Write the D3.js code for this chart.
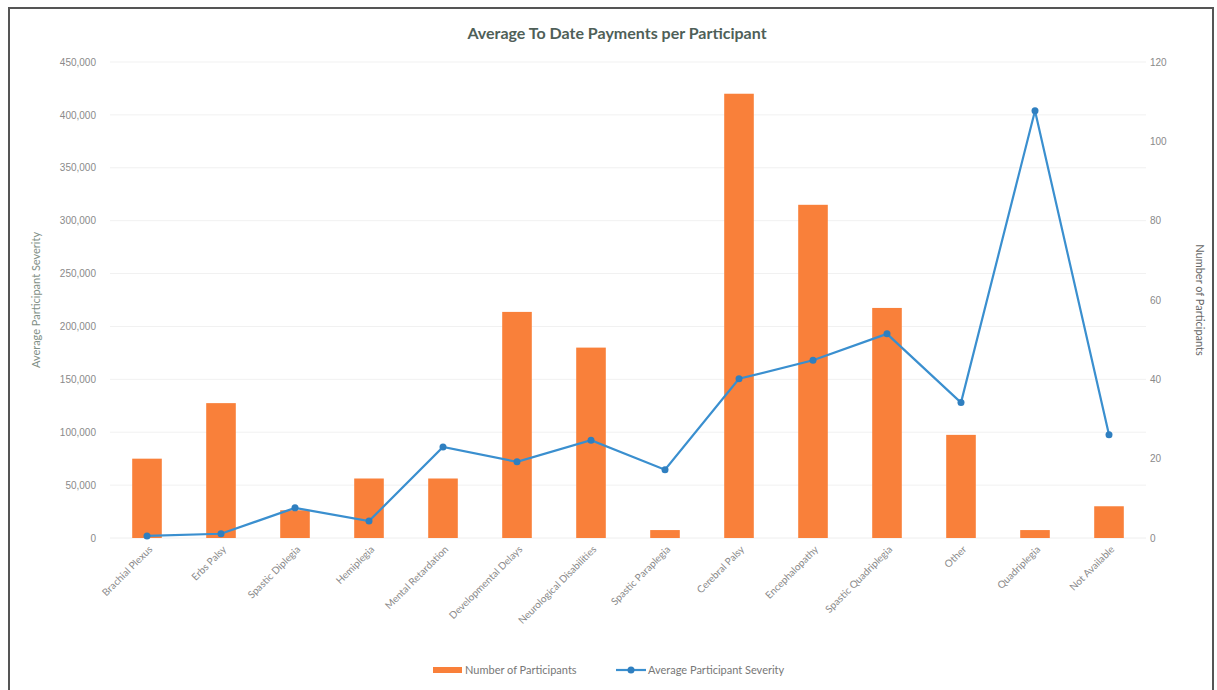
<!DOCTYPE html>
<html><head><meta charset="utf-8">
<script src="https://cdn.jsdelivr.net/npm/d3@7"></script>
<style>body{margin:0;background:#fff}svg{display:block;font-family:Lato,"Open Sans",sans-serif}</style>
</head><body><svg id="c" width="1217" height="690"></svg>
<script>
const categories = ["Brachial Plexus","Erbs Palsy","Spastic Diplegia","Hemiplegia","Mental Retardation","Developmental Delays","Neurological Disabilities","Spastic Paraplegia","Cerebral Palsy","Encephalopathy","Spastic Quadriplegia","Other","Quadriplegia","Not Available"];
const participants = [20,34,7,15,15,57,48,2,112,84,58,26,2,8];
const severity = [2000,4000,28500,16000,86000,72000,92500,64500,150500,168000,193000,128000,404000,97500];
const leftTicks = [0,50000,100000,150000,200000,250000,300000,350000,400000,450000];
const rightTicks = [0,20,40,60,80,100,120];

const svg = d3.select("#c");
const L = 110, R = 1146, T = 62, B = 538;
// frame
svg.append("rect").attr("x",9).attr("y",8).attr("width",1204).attr("height",700)
  .attr("fill","none").attr("stroke","#555").attr("stroke-width",2);

const x = d3.scaleBand().domain(categories).range([L,R]).paddingInner(0.6).paddingOuter(0.3);
const yL = d3.scaleLinear().domain([0,450000]).range([B,T]);
const yR = d3.scaleLinear().domain([0,120]).range([B,T]);

// gridlines
svg.append("g").selectAll("line").data(leftTicks.slice(1)).join("line")
  .attr("x1",L).attr("x2",R).attr("y1",d=>yL(d)).attr("y2",d=>yL(d))
  .attr("stroke","#f1f1f1").attr("stroke-width",1);
svg.append("line").attr("x1",L).attr("x2",R).attr("y1",B).attr("y2",B).attr("stroke","#eee");

// left axis
const gl = svg.append("g").attr("transform",`translate(${L},0)`)
  .call(d3.axisLeft(yL).tickValues(leftTicks).tickFormat(d3.format(",")).tickSize(0).tickPadding(14));
gl.select(".domain").remove();
gl.selectAll("text").attr("fill","#8a8a8a").style("font-size","10px");
// right axis
const gr = svg.append("g").attr("transform",`translate(${R},0)`)
  .call(d3.axisRight(yR).tickValues(rightTicks).tickSize(0).tickPadding(4));
gr.select(".domain").remove();
gr.selectAll("text").attr("fill","#8a8a8a").style("font-size","10px");

// axis titles
svg.append("text").attr("transform",`translate(40,${(T+B)/2}) rotate(-90)`).attr("text-anchor","middle")
  .attr("fill","#7f8f86").style("font-size","11px").text("Average Participant Severity");
svg.append("text").attr("transform",`translate(1196,${(T+B)/2}) rotate(90)`).attr("text-anchor","middle")
  .attr("fill","#666").style("font-size","11px").text("Number of Participants");

// bars
svg.append("g").selectAll("rect").data(categories).join("rect")
  .attr("x",d=>x(d)).attr("width",x.bandwidth())
  .attr("y",(d,i)=>yR(participants[i])).attr("height",(d,i)=>B-yR(participants[i]))
  .attr("fill","#f9803a");

// line
const cx = d=>x(d)+x.bandwidth()/2;
svg.append("path").datum(categories)
  .attr("d",d3.line().x(cx).y((d,i)=>yL(severity[i])))
  .attr("fill","none").attr("stroke","#3a8fcf").attr("stroke-width",2.2);
svg.append("g").selectAll("circle").data(categories).join("circle")
  .attr("cx",cx).attr("cy",(d,i)=>yL(severity[i])).attr("r",3.5).attr("fill","#2f7fc0");

// x labels
svg.append("g").selectAll("text").data(categories).join("text")
  .attr("transform",d=>`translate(${cx(d)+6},${B+12}) rotate(-45)`)
  .attr("text-anchor","end").attr("fill","#8a8a8a").style("font-size","10px").text(d=>d);

// title
svg.append("text").attr("x",617).attr("y",39).attr("text-anchor","middle")
  .attr("fill","#4f5f58").style("font-size","16px").style("font-weight","bold").text("Average To Date Payments per Participant");

// legend
const lg = svg.append("g");
lg.append("rect").attr("x",433).attr("y",667).attr("width",29).attr("height",6).attr("fill","#f9803a");
lg.append("text").attr("x",465).attr("y",674).attr("fill","#777").style("font-size","11px").text("Number of Participants");
lg.append("line").attr("x1",616).attr("x2",646).attr("y1",670).attr("y2",670).attr("stroke","#3a8fcf").attr("stroke-width",2.2);
lg.append("circle").attr("cx",631).attr("cy",670).attr("r",3.5).attr("fill","#2f7fc0");
lg.append("text").attr("x",648).attr("y",674).attr("fill","#777").style("font-size","11px").text("Average Participant Severity");
</script></body></html>
